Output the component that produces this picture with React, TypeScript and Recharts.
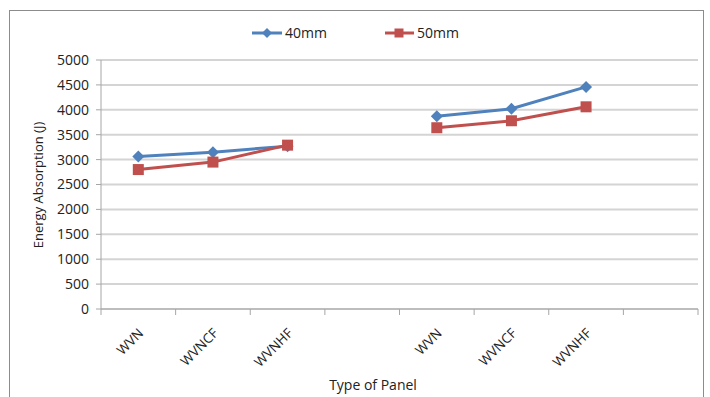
import React from 'react';
import { LineChart, Line, XAxis, YAxis, CartesianGrid } from 'recharts';

const categories = ['WVN', 'WVNCF', 'WVNHF', '', 'WVN', 'WVNCF', 'WVNHF', ''];
const series40mm = [3060, 3150, 3270, null, 3870, 4020, 4460, null];
const series50mm = [2800, 2950, 3290, null, 3640, 3780, 4060, null];
const yTicks = [0, 500, 1000, 1500, 2000, 2500, 3000, 3500, 4000, 4500, 5000];
const seriesNames = ['40mm', '50mm'];

const data = categories.map((name, i) => ({
  name,
  s40: series40mm[i],
  s50: series50mm[i],
}));

const BLUE = '#4F81BD';
const RED = '#C0504D';
const FONT = '"Open Sans", sans-serif';
const BAND = 74.625;

const XTick = (props: any) => {
  const { x, y, payload, index } = props;
  const half = BAND / 2;
  return (
    <g>
      <line x1={x - half} x2={x - half} y1={y} y2={y + 6} stroke="#a6a6a6" strokeWidth={1} />
      {index === categories.length - 1 && (
        <line x1={x + half} x2={x + half} y1={y} y2={y + 6} stroke="#a6a6a6" strokeWidth={1} />
      )}
      {payload.value ? (
        <text
          x={x + 6}
          y={y + 25}
          transform={`rotate(-45 ${x + 6} ${y + 25})`}
          textAnchor="end"
          fontSize={13.5}
          fontFamily={FONT}
          fill="#222"
        >
          {payload.value}
        </text>
      ) : null}
    </g>
  );
};

const Diamond = (props: any) => {
  const { cx, cy, index } = props;
  if (cx == null || cy == null || props.value == null) return <g key={`d${index}`} />;
  const r = 6;
  return (
    <path
      key={`d${index}`}
      d={`M${cx},${cy - r}L${cx + r},${cy}L${cx},${cy + r}L${cx - r},${cy}Z`}
      fill={BLUE}
    />
  );
};

const Square = (props: any) => {
  const { cx, cy, index } = props;
  if (cx == null || cy == null || props.value == null) return <g key={`s${index}`} />;
  const r = 5.5;
  return <rect key={`s${index}`} x={cx - r} y={cy - r} width={2 * r} height={2 * r} fill={RED} />;
};

const LegendBox = () => (
  <svg width={710} height={50} style={{ position: 'absolute', left: 0, top: 0 }}>
    <line x1={252} x2={282} y1={33} y2={33} stroke={BLUE} strokeWidth={3} />
    <path d="M267,28L272,33L267,38L262,33Z" fill={BLUE} />
    <text x={285} y={38} fontSize={14} fontFamily={FONT} fill="#222">{seriesNames[0]}</text>
    <line x1={385} x2={414} y1={33} y2={33} stroke={RED} strokeWidth={3} />
    <rect x={394.5} y={28.5} width={9} height={9} fill={RED} />
    <text x={417} y={38} fontSize={14} fontFamily={FONT} fill="#222">{seriesNames[1]}</text>
  </svg>
);

export default function App() {
  return (
    <div style={{ position: 'absolute', left: 0, top: 0, width: 710, height: 397, background: '#fff', overflow: 'hidden' }}>
      <div
        style={{
          position: 'absolute',
          left: 9,
          top: 10,
          width: 695,
          height: 400,
          border: '1px solid #8c8c8c',
          boxSizing: 'border-box',
        }}
      />
      <div style={{ position: 'absolute', left: 0, top: 0 }}>
        <LineChart
          width={710}
          height={397}
          data={data}
          margin={{ top: 60, right: 12, left: 0, bottom: 0 }}
        >
          <CartesianGrid horizontal vertical={false} stroke="#d4d4d4" strokeWidth={2} />
          <XAxis
            dataKey="name"
            padding={{ left: BAND / 2, right: BAND / 2 }}
            height={88}
            tickSize={0}
            tickMargin={0}
            interval={0}
            tick={<XTick />}
            axisLine={{ stroke: '#a6a6a6' }}
            tickLine={false}
            label={() => (
              <text x={373} y={390} textAnchor="middle" fontSize={14} fontFamily={FONT} fill="#222">
                Type of Panel
              </text>
            )}
          />
          <YAxis
            width={101}
            domain={[0, 5000]}
            ticks={yTicks}
            interval={0}
            tickSize={5}
            tickMargin={7}
            tick={{ fontSize: 14, fontFamily: FONT, fill: '#222' }}
            axisLine={{ stroke: '#a6a6a6' }}
            tickLine={{ stroke: '#a6a6a6' }}
            label={() => (
              <text
                x={38}
                y={185}
                transform="rotate(-90 38 185)"
                textAnchor="middle"
                dominantBaseline="central"
                fontSize={13}
                fontFamily={FONT}
                fill="#222"
              >
                Energy Absorption (J)
              </text>
            )}
          />
          <Line
            type="linear"
            dataKey="s40"
            name={seriesNames[0]}
            stroke={BLUE}
            strokeWidth={3}
            dot={<Diamond />}
            activeDot={false}
            isAnimationActive={false}
          />
          <Line
            type="linear"
            dataKey="s50"
            name={seriesNames[1]}
            stroke={RED}
            strokeWidth={3}
            dot={<Square />}
            activeDot={false}
            isAnimationActive={false}
          />
        </LineChart>
      </div>
      <LegendBox />
    </div>
  );
}
